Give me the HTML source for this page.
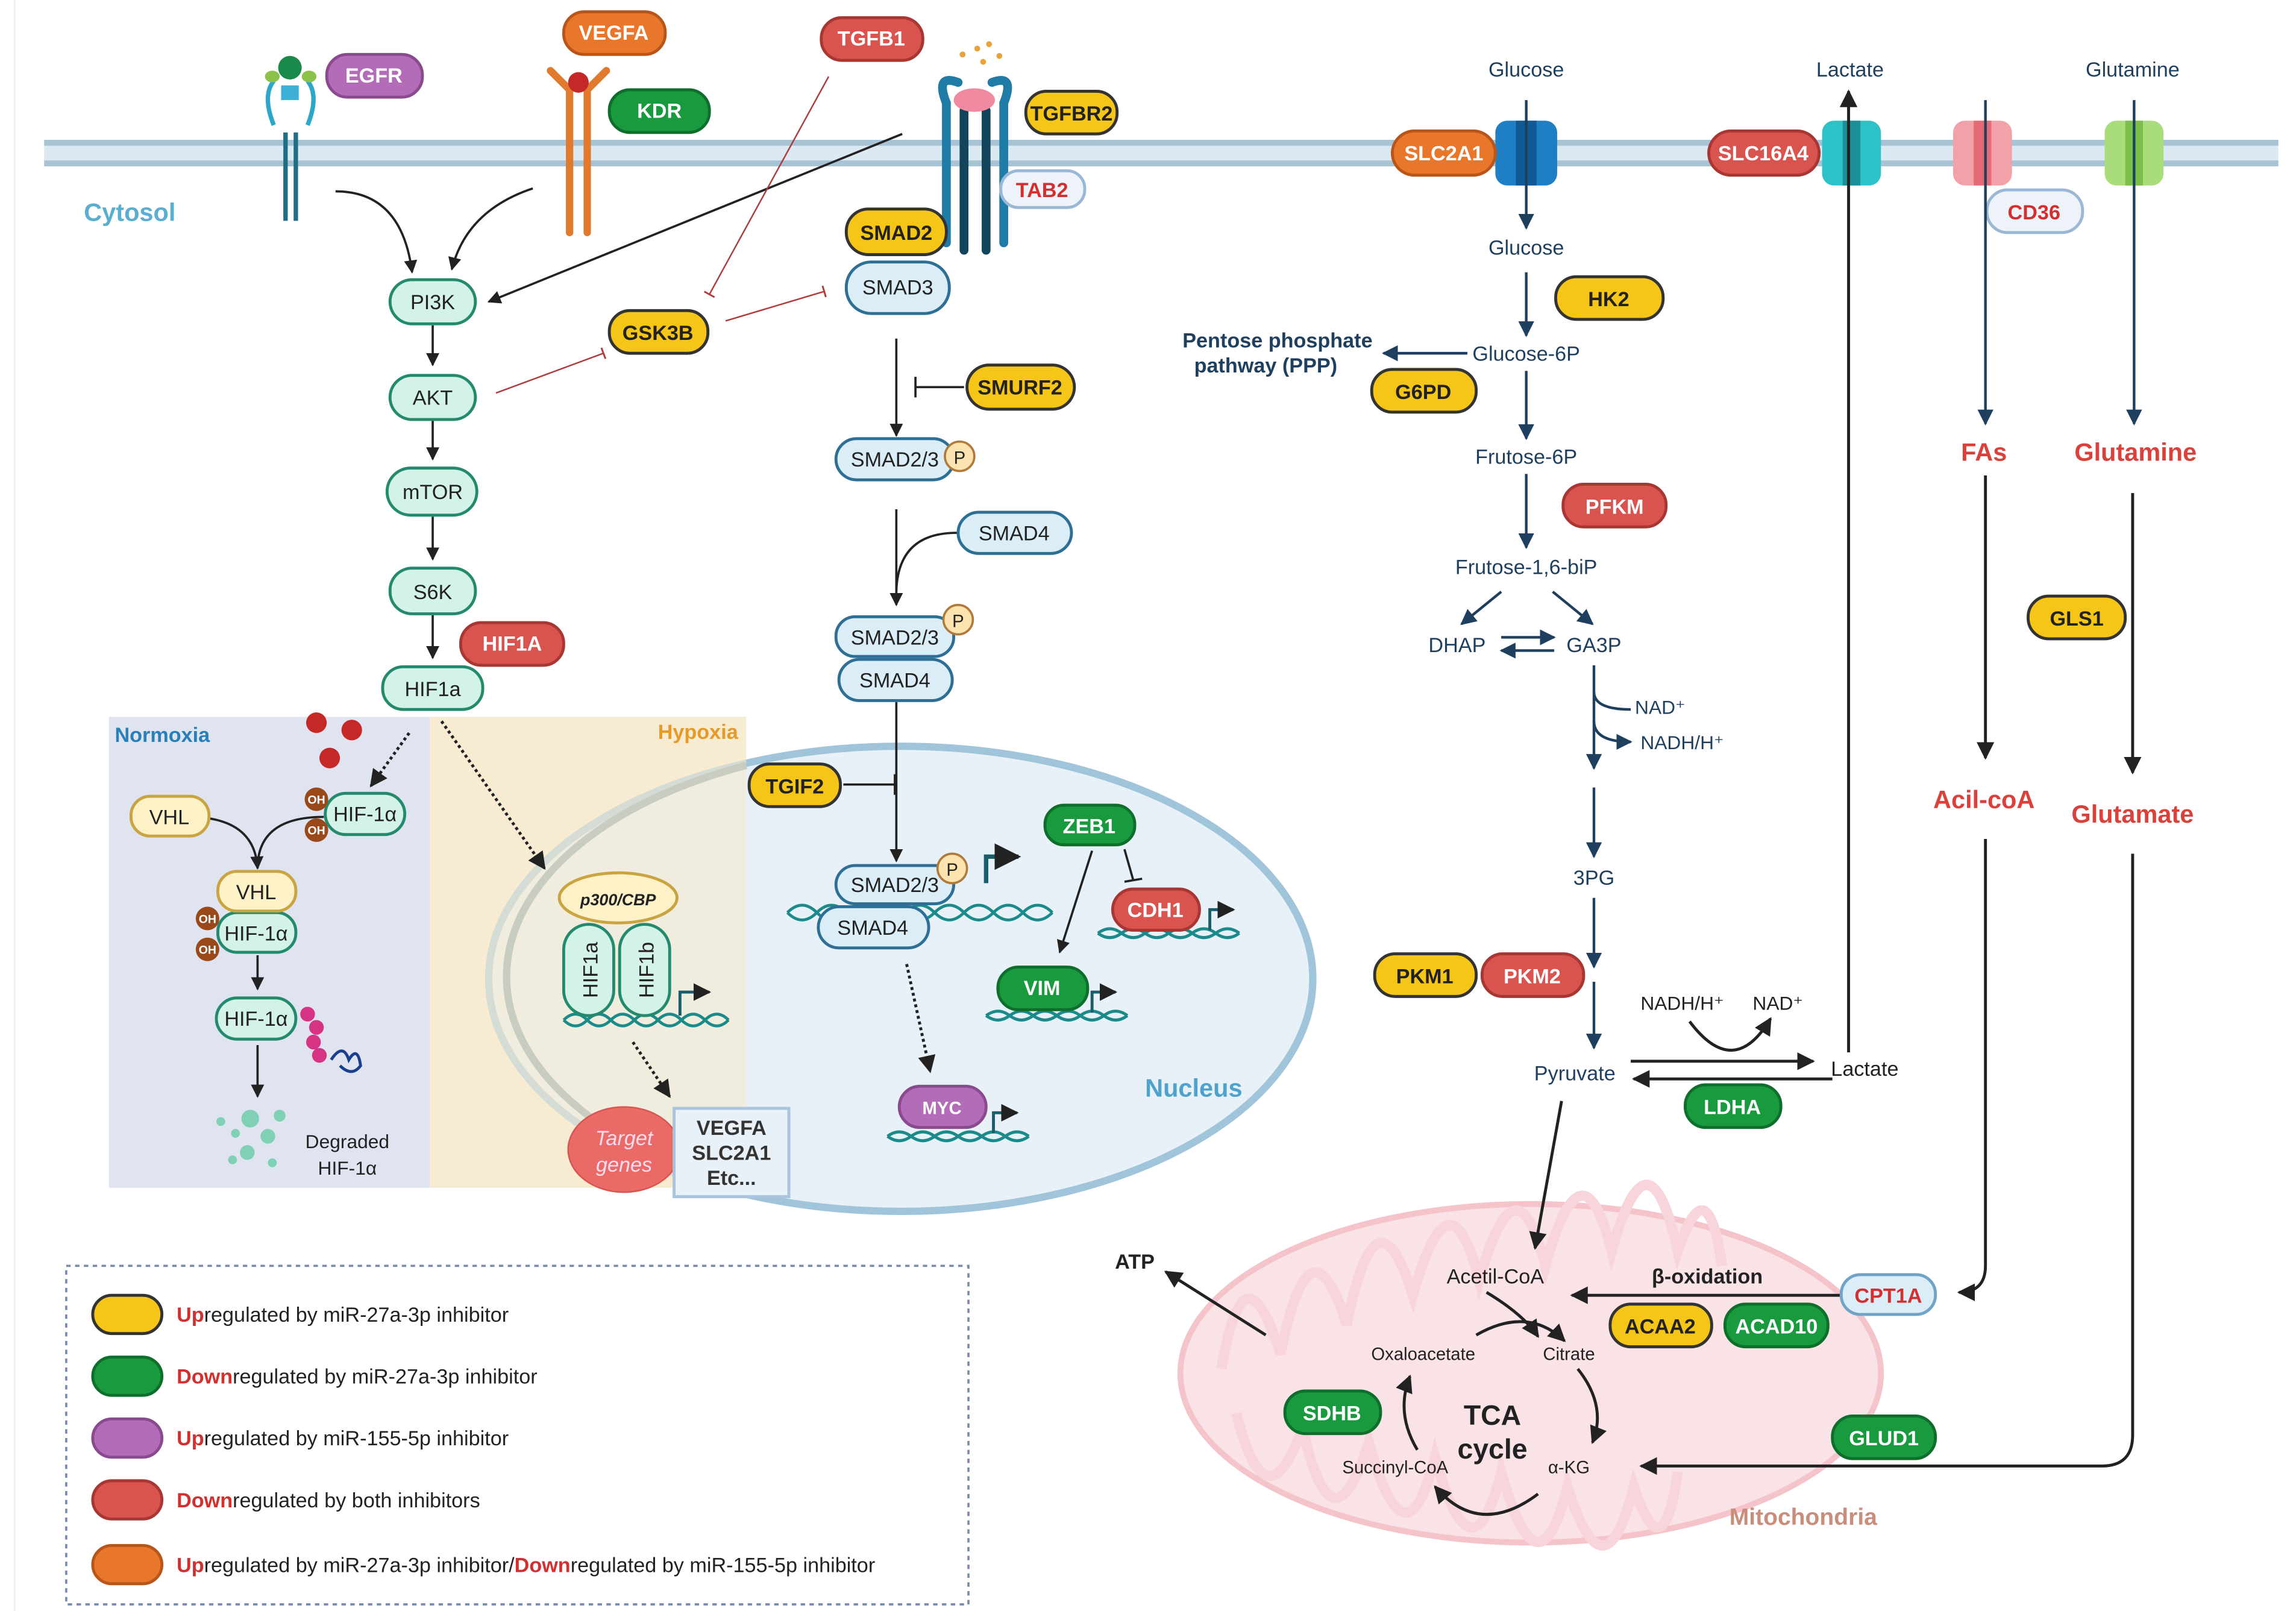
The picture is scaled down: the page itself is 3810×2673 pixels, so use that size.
<!DOCTYPE html>
<html><head><meta charset="utf-8"><style>
html,body{margin:0;padding:0;background:#fff}
svg{display:block}
text{font-family:"Liberation Sans",sans-serif}
</style></head><body>
<svg width="3810" height="2673" viewBox="0 0 1560 1094.5" preserveAspectRatio="none" xmlns="http://www.w3.org/2000/svg">
<defs>
<marker id="a" viewBox="0 0 10 10" refX="9" refY="5" markerWidth="6" markerHeight="6" orient="auto-start-reverse"><path d="M0,0L10,5L0,10z" fill="#222"/></marker>
<marker id="ab" viewBox="0 0 10 10" refX="9" refY="5" markerWidth="6" markerHeight="6" orient="auto"><path d="M0,0L10,5L0,10z" fill="#1f3f5f"/></marker>
<marker id="tr" viewBox="0 0 10 10" refX="5" refY="5" markerWidth="8" markerHeight="8" orient="auto"><path d="M5,0L5,10" stroke="#b03a3a" stroke-width="1.5"/></marker>
</defs>
<rect width="1560" height="1095" fill="#fff"/>
<line x1="10" y1="0" x2="10" y2="1095" stroke="#eee"/>
<!-- membrane -->
<rect x="30" y="95" width="1518" height="18" fill="#dbe9f3"/>
<rect x="30" y="95" width="1518" height="4" fill="#a8c3d3"/>
<rect x="30" y="109" width="1518" height="4" fill="#a8c3d3"/>
<text x="57" y="150" font-size="17" font-weight="bold" fill="#5aaed0">Cytosol</text>

<!-- Normoxia / Hypoxia -->
<rect x="74" y="487" width="218" height="320" fill="#dfe4f0"/>
<rect x="292" y="487" width="215" height="320" fill="#f7ecd2"/>
<ellipse cx="612" cy="665" rx="280" ry="158" fill="#e4eef7" fill-opacity="0.85" stroke="#a0c4da" stroke-width="5"/>
<rect x="292" y="487" width="215" height="320" fill="#f7ecd2" fill-opacity="0.6"/>
<path d="M507,520 A280,158 0 0 0 507,807" fill="none" stroke="#c9ccc0" stroke-width="5"/>
<text x="78" y="504" font-size="14" font-weight="bold" fill="#2a7fb8">Normoxia</text>
<text x="447" y="502" font-size="14" font-weight="bold" fill="#e59a2a">Hypoxia</text>
<text x="778" y="745" font-size="17" font-weight="bold" fill="#4da3cc">Nucleus</text>

<!-- mitochondria -->
<ellipse cx="1040" cy="933" rx="238" ry="115" fill="#f9e3e6" stroke="#f4c4ca" stroke-width="4"/>
<path d="M830,930 q15,-90 40,-10 q20,-100 45,-20 q20,-100 45,-20 q25,-90 45,-10 q25,-90 45,-10 q25,-90 45,-10 q25,-90 45,0 q20,-60 30,10" fill="none" stroke="#f7d5da" stroke-width="7"/>
<path d="M840,960 q20,80 45,10 q20,90 45,10 q25,90 45,10 q25,90 45,10 q25,90 45,10 q25,80 45,0 q20,60 30,-10" fill="none" stroke="#f7d5da" stroke-width="7"/>
<text x="1175" y="1036" font-size="16" font-weight="bold" fill="#c98d7c">Mitochondria</text>

<!-- receptors -->
<g stroke="#1e6f86" stroke-width="3" fill="none">
<line x1="194" y1="90" x2="194" y2="150"/><line x1="201" y1="90" x2="201" y2="150"/>
<path d="M186,55 q-8,10 0,30 M209,55 q8,10 0,30" stroke="#2aa7c9"/>
</g>
<circle cx="197" cy="46" r="8" fill="#1a8a4a"/>
<ellipse cx="185" cy="52" rx="5" ry="4" fill="#8bc34a"/><ellipse cx="210" cy="52" rx="5" ry="4" fill="#8bc34a"/>
<rect x="191" y="58" width="12" height="10" fill="#3db0d6"/>
<g stroke="#e07a2e" stroke-width="5" stroke-linecap="round">
<line x1="387" y1="60" x2="387" y2="158"/><line x1="399" y1="60" x2="399" y2="158"/>
<line x1="374" y1="48" x2="386" y2="60"/><line x1="412" y1="48" x2="400" y2="60"/>
</g>
<circle cx="393" cy="56" r="7" fill="#c62828"/>
<g stroke-width="6" stroke-linecap="round" fill="none">
<line x1="643" y1="70" x2="643" y2="165" stroke="#1f7ca6"/>
<line x1="655" y1="75" x2="655" y2="170" stroke="#12455c"/>
<line x1="670" y1="75" x2="670" y2="170" stroke="#12455c"/>
<line x1="682" y1="70" x2="682" y2="165" stroke="#1f7ca6"/>
<path d="M643,70 q-8,-20 8,-14 M682,70 q8,-20 -8,-14" stroke="#1f7ca6"/>
</g>
<ellipse cx="662" cy="68" rx="14" ry="8" fill="#f08aa0"/>
<g fill="#e8a43a"><circle cx="654" cy="37" r="2"/><circle cx="664" cy="33" r="2"/><circle cx="672" cy="30" r="2"/><circle cx="679" cy="38" r="2"/><circle cx="668" cy="42" r="2"/></g>
<!-- transporters -->
<g><rect x="1016" y="82" width="42" height="44" rx="8" fill="#1e7fc4"/><rect x="1030" y="82" width="14" height="44" fill="#0f5a94"/></g>
<g><rect x="1238" y="82" width="40" height="44" rx="8" fill="#2cc2c7"/><rect x="1252" y="82" width="12" height="44" fill="#1b8f95"/></g>
<g><rect x="1327" y="82" width="40" height="44" rx="8" fill="#f3a1a8"/><rect x="1341" y="82" width="12" height="44" fill="#e46b75"/></g>
<g><rect x="1430" y="82" width="40" height="44" rx="8" fill="#a9dc7a"/><rect x="1444" y="82" width="12" height="44" fill="#7cbf4a"/></g>

<!-- connectors left -->
<g stroke="#222" stroke-width="1.5" fill="none">
<path d="M228,130 q45,0 52,55" marker-end="url(#a)"/>
<path d="M362,128 q-45,15 -55,55" marker-end="url(#a)"/>
<line x1="613" y1="91" x2="332" y2="205" marker-end="url(#a)"/>
<line x1="294" y1="221" x2="294" y2="248" marker-end="url(#a)"/>
<line x1="294" y1="286" x2="294" y2="312" marker-end="url(#a)"/>
<line x1="294" y1="351" x2="294" y2="380" marker-end="url(#a)"/>
<line x1="294" y1="418" x2="294" y2="447" marker-end="url(#a)"/>
<line x1="609" y1="230" x2="609" y2="296" marker-end="url(#a)"/>
<line x1="655" y1="263" x2="622" y2="263"/><line x1="622" y1="256" x2="622" y2="270"/>
<line x1="609" y1="346" x2="609" y2="411" marker-end="url(#a)"/>
<path d="M650,362 q-40,0 -41,40"/>
<line x1="609" y1="477" x2="609" y2="585" marker-end="url(#a)"/>
<line x1="573" y1="533" x2="608" y2="533"/><line x1="608" y1="526" x2="608" y2="540"/>
<path d="M670,600 l0,-18 l22,0" stroke-width="3" stroke="#1b5e6b" marker-end="url(#a)"/>
<line x1="742" y1="578" x2="720" y2="647" marker-end="url(#a)"/>
<line x1="764" y1="577" x2="770" y2="598"/><line x1="764" y1="599" x2="776" y2="597"/>
<line x1="175" y1="649" x2="175" y2="672" marker-end="url(#a)"/>
<line x1="175" y1="710" x2="175" y2="745" marker-end="url(#a)"/>
<path d="M128,555 q45,0 47,35" marker-end="url(#a)"/>
<path d="M220,555 q-45,0 -45,35"/>
</g>
<g stroke="#222" stroke-width="2" stroke-dasharray="2,2" fill="none">
<line x1="278" y1="498" x2="252" y2="534" marker-end="url(#a)"/>
<line x1="300" y1="490" x2="370" y2="590" marker-end="url(#a)"/>
<line x1="430" y1="708" x2="455" y2="745" marker-end="url(#a)"/>
<line x1="616" y1="655" x2="632" y2="728" marker-end="url(#a)"/>
</g>
<g stroke="#b03a3a" stroke-width="1" fill="none">
<line x1="563" y1="52" x2="482" y2="200" marker-end="url(#tr)"/>
<line x1="337" y1="267" x2="410" y2="240" marker-end="url(#tr)"/>
<line x1="493" y1="218" x2="560" y2="198" marker-end="url(#tr)"/>
</g>

<!-- DNA strands -->
<g stroke="#1b8a8a" stroke-width="2" fill="none">
<path d="M535,620 q10,-10 20,0 t20,0 t20,0 t20,0 t20,0 t20,0 t20,0 t20,0 t20,0"/>
<path d="M535,620 q10,10 20,0 t20,0 t20,0 t20,0 t20,0 t20,0 t20,0 t20,0 t20,0"/>
<path d="M383,693 q8,-8 16,0 t16,0 t16,0 t16,0 t16,0 t16,0 t16,0"/>
<path d="M383,693 q8,8 16,0 t16,0 t16,0 t16,0 t16,0 t16,0 t16,0"/>
<path d="M746,634 q8,-6 16,0 t16,0 t16,0 t16,0 t16,0 t16,0"/>
<path d="M746,634 q8,6 16,0 t16,0 t16,0 t16,0 t16,0 t16,0"/>
<path d="M670,690 q8,-6 16,0 t16,0 t16,0 t16,0 t16,0 t16,0"/>
<path d="M670,690 q8,6 16,0 t16,0 t16,0 t16,0 t16,0 t16,0"/>
<path d="M603,772 q8,-6 16,0 t16,0 t16,0 t16,0 t16,0 t16,0"/>
<path d="M603,772 q8,6 16,0 t16,0 t16,0 t16,0 t16,0 t16,0"/>
</g>
<g stroke="#1b5e6b" stroke-width="2" fill="none">
<path d="M462,690 v-16 h20" marker-end="url(#a)"/>
<path d="M822,632 v-14 h16" marker-end="url(#a)"/>
<path d="M742,688 v-14 h16" marker-end="url(#a)"/>
<path d="M675,770 v-14 h16" marker-end="url(#a)"/>
</g>

<!-- teal nodes -->
<g fill="#d3f2e8" stroke="#238a6d" stroke-width="2">
<rect x="265" y="190" width="58" height="30" rx="15"/>
<rect x="265" y="255" width="58" height="30" rx="15"/>
<rect x="263" y="318" width="61" height="32" rx="16"/>
<rect x="265" y="386" width="58" height="31" rx="15"/>
<rect x="260" y="453" width="68" height="29" rx="14"/>
<rect x="221" y="539" width="54" height="28" rx="14"/>
<rect x="148" y="620" width="53" height="27" rx="13"/>
<rect x="147" y="678" width="54" height="28" rx="14"/>
<rect x="383" y="628" width="34" height="62" rx="17"/>
<rect x="421" y="628" width="34" height="62" rx="17"/>
</g>
<g fill="#fdf1c8" stroke="#c9a441" stroke-width="2">
<rect x="89" y="541" width="53" height="27" rx="13"/>
<rect x="148" y="592" width="53" height="27" rx="13"/>
<ellipse cx="420" cy="610" rx="40" ry="17"/>
</g>
<g fill="#9a4a1a"><circle cx="215" cy="543" r="8"/><circle cx="215" cy="564" r="8"/><circle cx="141" cy="624" r="8"/><circle cx="141" cy="645" r="8"/></g>
<g fill="#c62828"><circle cx="215" cy="491" r="7"/><circle cx="239" cy="496" r="7"/><circle cx="224" cy="515" r="7"/></g>
<g fill="#d63384"><circle cx="209" cy="689" r="5"/><circle cx="215" cy="698" r="5"/><circle cx="213" cy="708" r="5"/><circle cx="217" cy="717" r="5"/></g>
<path d="M225,720 q8,-12 12,0 q6,-10 8,4 q-6,8 -14,0" stroke="#1a3f8f" stroke-width="2" fill="none"/>
<g fill="#7fd0b4"><circle cx="170" cy="760" r="6"/><circle cx="160" cy="770" r="3"/><circle cx="182" cy="772" r="5"/><circle cx="168" cy="783" r="5"/><circle cx="190" cy="758" r="4"/><circle cx="150" cy="762" r="3"/><circle cx="185" cy="790" r="3"/><circle cx="158" cy="788" r="3"/></g>
<g font-size="14" fill="#222" text-anchor="middle">
<text x="294" y="210">PI3K</text><text x="294" y="275">AKT</text><text x="294" y="339">mTOR</text>
<text x="294" y="407">S6K</text><text x="294" y="473">HIF1a</text><text x="248" y="558">HIF-1α</text>
<text x="115" y="560">VHL</text><text x="174" y="611">VHL</text>
<text x="174" y="639">HIF-1α</text><text x="174" y="697">HIF-1α</text>
<text x="420" y="615" font-size="11" font-weight="bold" font-style="italic">p300/CBP</text>
<text x="236" y="780" font-size="13">Degraded</text><text x="236" y="798" font-size="13">HIF-1α</text>
</g>
<text transform="translate(406,659) rotate(-90)" font-size="14" text-anchor="middle" fill="#222">HIF1a</text>
<text transform="translate(444,659) rotate(-90)" font-size="14" text-anchor="middle" fill="#222">HIF1b</text>
<g font-size="8" font-weight="bold" fill="#fff" text-anchor="middle"><text x="215" y="546">OH</text><text x="215" y="567">OH</text><text x="141" y="627">OH</text><text x="141" y="648">OH</text></g>
<ellipse cx="424" cy="781" rx="38" ry="29" fill="#e96a67" stroke="#d9534f"/>
<text x="424" y="778" font-size="14" font-style="italic" fill="#fde" text-anchor="middle">Target</text>
<text x="424" y="796" font-size="14" font-style="italic" fill="#fde" text-anchor="middle">genes</text>
<rect x="458" y="753" width="78" height="60" fill="#e8f0f8" stroke="#a9c4dc" stroke-width="2"/>
<g font-size="14" font-weight="bold" fill="#333" text-anchor="middle"><text x="497" y="771">VEGFA</text><text x="497" y="788">SLC2A1</text><text x="497" y="805">Etc...</text></g>

<!-- smad nodes -->
<g fill="#dbeef8" stroke="#2e6f96" stroke-width="2">
<rect x="575" y="178" width="70" height="35" rx="17"/>
<rect x="568" y="298" width="80" height="28" rx="14"/>
<rect x="651" y="348" width="77" height="28" rx="14"/>
<rect x="568" y="419" width="80" height="27" rx="13"/>
<rect x="570" y="448" width="77" height="28" rx="14"/>
<rect x="568" y="588" width="80" height="26" rx="13"/>
<rect x="556" y="616" width="75" height="28" rx="14"/>
</g>
<g fill="#fde3b0" stroke="#b07a3a" stroke-width="1.5"><circle cx="652" cy="310" r="10"/><circle cx="651" cy="421" r="10"/><circle cx="647" cy="590" r="10"/></g>
<g font-size="14" fill="#222" text-anchor="middle">
<text x="610" y="200">SMAD3</text><text x="608" y="317">SMAD2/3</text><text x="689" y="367">SMAD4</text>
<text x="608" y="438">SMAD2/3</text><text x="608" y="467">SMAD4</text><text x="608" y="606">SMAD2/3</text><text x="593" y="635">SMAD4</text>
<text x="652" y="315" font-size="12">P</text><text x="651" y="426" font-size="12">P</text><text x="647" y="595" font-size="12">P</text>
</g>

<!-- pills -->
<g stroke-width="2">
<rect x="222" y="37" width="65" height="29" rx="14" fill="#b36cb7" stroke="#8a4a8e"/>
<rect x="383" y="8" width="69" height="29" rx="14" fill="#e8762b" stroke="#b8561a"/>
<rect x="414" y="61" width="68" height="29" rx="14" fill="#1a9a3f" stroke="#0e6e2b"/>
<rect x="558" y="12" width="69" height="29" rx="14" fill="#d9534f" stroke="#a83632"/>
<rect x="697" y="62" width="62" height="29" rx="14" fill="#f5c518" stroke="#333"/>
<rect x="680" y="116" width="57" height="25" rx="12" fill="#eef3fa" stroke="#9bb7d6"/>
<rect x="575" y="142" width="68" height="31" rx="15" fill="#f5c518" stroke="#333"/>
<rect x="414" y="211" width="67" height="29" rx="14" fill="#f5c518" stroke="#333"/>
<rect x="657" y="248" width="73" height="30" rx="15" fill="#f5c518" stroke="#333"/>
<rect x="313" y="423" width="70" height="29" rx="14" fill="#d9534f" stroke="#a83632"/>
<rect x="509" y="519" width="62" height="29" rx="14" fill="#f5c518" stroke="#333"/>
<rect x="710" y="547" width="61" height="27" rx="13" fill="#1a9a3f" stroke="#0e6e2b"/>
<rect x="756" y="604" width="59" height="28" rx="14" fill="#d9534f" stroke="#a83632"/>
<rect x="678" y="657" width="61" height="29" rx="14" fill="#1a9a3f" stroke="#0e6e2b"/>
<rect x="611" y="738" width="59" height="28" rx="14" fill="#b36cb7" stroke="#8a4a8e"/>
<rect x="946" y="89" width="70" height="30" rx="15" fill="#e8762b" stroke="#b8561a"/>
<rect x="1161" y="89" width="75" height="30" rx="15" fill="#d9534f" stroke="#a83632"/>
<rect x="1350" y="129" width="65" height="29" rx="14" fill="#eef3fa" stroke="#9bb7d6"/>
<rect x="1057" y="188" width="73" height="29" rx="14" fill="#f5c518" stroke="#333"/>
<rect x="932" y="251" width="71" height="29" rx="14" fill="#f5c518" stroke="#333"/>
<rect x="1062" y="329" width="70" height="29" rx="14" fill="#d9534f" stroke="#a83632"/>
<rect x="934" y="648" width="69" height="29" rx="14" fill="#f5c518" stroke="#333"/>
<rect x="1007" y="648" width="69" height="29" rx="14" fill="#d9534f" stroke="#a83632"/>
<rect x="1145" y="737" width="65" height="29" rx="14" fill="#1a9a3f" stroke="#0e6e2b"/>
<rect x="1251" y="866" width="64" height="27" rx="13" fill="#dbeef8" stroke="#6fa3c8"/>
<rect x="1094" y="886" width="69" height="29" rx="14" fill="#f5c518" stroke="#333"/>
<rect x="1172" y="886" width="70" height="29" rx="14" fill="#1a9a3f" stroke="#0e6e2b"/>
<rect x="873" y="945" width="65" height="29" rx="14" fill="#1a9a3f" stroke="#0e6e2b"/>
<rect x="1245" y="962" width="70" height="29" rx="14" fill="#1a9a3f" stroke="#0e6e2b"/>
<rect x="1378" y="405" width="66" height="29" rx="14" fill="#f5c518" stroke="#333"/>
</g>
<g font-size="14" font-weight="bold" text-anchor="middle" fill="#fff">
<text x="254" y="56">EGFR</text><text x="417" y="27">VEGFA</text><text x="448" y="80">KDR</text><text x="592" y="31">TGFB1</text>
<text x="348" y="442">HIF1A</text><text x="740" y="566">ZEB1</text><text x="785" y="623">CDH1</text><text x="708" y="676">VIM</text>
<text x="640" y="757" font-size="12">MYC</text><text x="981" y="109">SLC2A1</text><text x="1198" y="109">SLC16A4</text>
<text x="1097" y="349">PFKM</text><text x="1041" y="668">PKM2</text><text x="1177" y="757">LDHA</text><text x="1207" y="906">ACAD10</text>
<text x="905" y="965">SDHB</text><text x="1280" y="982">GLUD1</text>
</g>
<g font-size="14" font-weight="bold" text-anchor="middle" fill="#222">
<text x="728" y="82">TGFBR2</text><text x="609" y="163">SMAD2</text><text x="447" y="231">GSK3B</text><text x="693" y="268">SMURF2</text>
<text x="540" y="539">TGIF2</text><text x="1093" y="208">HK2</text><text x="967" y="271">G6PD</text><text x="968" y="668">PKM1</text>
<text x="1128" y="906">ACAA2</text><text x="1411" y="425">GLS1</text>
</g>
<g font-size="14" font-weight="bold" text-anchor="middle" fill="#d32f2f">
<text x="708" y="134">TAB2</text><text x="1382" y="149">CD36</text><text x="1283" y="885">CPT1A</text>
</g>

<!-- metabolism -->
<g stroke="#1f3f5f" stroke-width="1.8" fill="none">
<line x1="1037" y1="68" x2="1037" y2="155" marker-end="url(#ab)"/>
<line x1="1037" y1="185" x2="1037" y2="228" marker-end="url(#ab)"/>
<line x1="997" y1="240" x2="940" y2="240" marker-end="url(#ab)"/>
<line x1="1037" y1="252" x2="1037" y2="298" marker-end="url(#ab)"/>
<line x1="1037" y1="322" x2="1037" y2="372" marker-end="url(#ab)"/>
<line x1="1020" y1="402" x2="993" y2="424" marker-end="url(#ab)"/>
<line x1="1055" y1="402" x2="1082" y2="424" marker-end="url(#ab)"/>
<line x1="1020" y1="433" x2="1056" y2="433" marker-end="url(#ab)"/>
<line x1="1056" y1="442" x2="1020" y2="442" marker-end="url(#ab)"/>
<line x1="1083" y1="452" x2="1083" y2="522" marker-end="url(#ab)"/>
<path d="M1083,470 q0,12 25,12" />
<path d="M1083,490 q0,14 25,14" marker-end="url(#ab)"/>
<line x1="1083" y1="535" x2="1083" y2="582" marker-end="url(#ab)"/>
<line x1="1083" y1="610" x2="1083" y2="657" marker-end="url(#ab)"/>
<line x1="1083" y1="667" x2="1083" y2="712" marker-end="url(#ab)"/>
<line x1="1349" y1="68" x2="1349" y2="288" marker-end="url(#ab)"/>
<line x1="1450" y1="68" x2="1450" y2="288" marker-end="url(#ab)"/>
</g>
<g stroke="#222" stroke-width="2" fill="none">
<line x1="1108" y1="721" x2="1232" y2="721" marker-end="url(#a)"/>
<line x1="1245" y1="733" x2="1110" y2="733" marker-end="url(#a)"/>
<path d="M1148,694 q30,40 55,-2" marker-end="url(#a)"/>
<path d="M1256,715 V62" marker-end="url(#a)"/>
<line x1="1349" y1="323" x2="1349" y2="515" marker-end="url(#a)"/>
<line x1="1449" y1="335" x2="1449" y2="525" marker-end="url(#a)"/>
<path d="M1349,570 V860 q0,18 -18,18" marker-end="url(#a)"/>
<path d="M1449,580 V975 q0,21 -21,21 H1115" marker-end="url(#a)"/>
<line x1="1061" y1="748" x2="1043" y2="848" marker-end="url(#a)"/>
<line x1="1250" y1="880" x2="1068" y2="880" marker-end="url(#a)"/>
<line x1="860" y1="907" x2="792" y2="864" marker-end="url(#a)"/>
<path d="M1010,878 q25,15 35,30" marker-end="url(#a)"/>
<path d="M1003,907 q35,-20 60,4" marker-end="url(#a)"/>
<path d="M1072,930 q20,25 10,50" marker-end="url(#a)"/>
<path d="M1045,1015 q-40,30 -70,-5" marker-end="url(#a)"/>
<path d="M963,985 q-15,-25 -5,-50" marker-end="url(#a)"/>
</g>
<g font-size="14" fill="#1f3f5f" text-anchor="middle">
<text x="1037" y="52">Glucose</text><text x="1257" y="52">Lactate</text><text x="1449" y="52">Glutamine</text>
<text x="1037" y="173">Glucose</text><text x="1037" y="245">Glucose-6P</text><text x="1037" y="315">Frutose-6P</text>
<text x="1037" y="390">Frutose-1,6-biP</text><text x="990" y="443">DHAP</text><text x="1083" y="443">GA3P</text>
<text x="1128" y="485" font-size="13">NAD⁺</text><text x="1143" y="509" font-size="13">NADH/H⁺</text>
<text x="1083" y="601">3PG</text><text x="1070" y="734">Pyruvate</text>
</g>
<g font-size="14" font-weight="bold" fill="#1f3f5f" text-anchor="middle"><text x="868" y="236">Pentose phosphate</text><text x="860" y="253">pathway (PPP)</text></g>
<g font-size="14" fill="#222" text-anchor="middle">
<text x="1267" y="731">Lactate</text><text x="1143" y="686" font-size="13">NADH/H⁺</text><text x="1208" y="686" font-size="13">NAD⁺</text>
<text x="771" y="862" font-weight="bold">ATP</text><text x="1016" y="872">Acetil-CoA</text><text x="1160" y="872" font-weight="bold">β-oxidation</text>
<text x="967" y="924" font-size="12">Oxaloacetate</text><text x="1066" y="924" font-size="12">Citrate</text>
<text x="948" y="1001" font-size="12">Succinyl-CoA</text><text x="1066" y="1001" font-size="12">α-KG</text>
<text x="1014" y="968" font-size="19" font-weight="bold">TCA</text><text x="1014" y="991" font-size="19" font-weight="bold">cycle</text>
</g>
<g font-size="17" font-weight="bold" fill="#d9413a" text-anchor="middle">
<text x="1348" y="313">FAs</text><text x="1451" y="313">Glutamine</text><text x="1348" y="549">Acil-coA</text><text x="1449" y="559">Glutamate</text>
</g>

<!-- legend -->
<rect x="45" y="860" width="613" height="230" fill="none" stroke="#7a8aa8" stroke-width="1.5" stroke-dasharray="3,3"/>
<g stroke-width="2">
<rect x="63" y="880" width="47" height="26" rx="13" fill="#f5c518" stroke="#333"/>
<rect x="63" y="922" width="47" height="26" rx="13" fill="#1a9a3f" stroke="#0e6e2b"/>
<rect x="63" y="964" width="47" height="26" rx="13" fill="#b36cb7" stroke="#8a4a8e"/>
<rect x="63" y="1006" width="47" height="26" rx="13" fill="#d9534f" stroke="#a83632"/>
<rect x="63" y="1050" width="47" height="26" rx="13" fill="#e8762b" stroke="#b8561a"/>
</g>
<g font-size="14" fill="#222">
<text x="120" y="898"><tspan fill="#d32f2f" font-weight="bold">Up</tspan>regulated by miR-27a-3p inhibitor</text>
<text x="120" y="940"><tspan fill="#d32f2f" font-weight="bold">Down</tspan>regulated by miR-27a-3p inhibitor</text>
<text x="120" y="982"><tspan fill="#d32f2f" font-weight="bold">Up</tspan>regulated by miR-155-5p inhibitor</text>
<text x="120" y="1024"><tspan fill="#d32f2f" font-weight="bold">Down</tspan>regulated by both inhibitors</text>
<text x="120" y="1068"><tspan fill="#d32f2f" font-weight="bold">Up</tspan>regulated by  miR-27a-3p inhibitor/<tspan fill="#d32f2f" font-weight="bold">Down</tspan>regulated by miR-155-5p inhibitor</text>
</g>
</svg>
</body></html>
